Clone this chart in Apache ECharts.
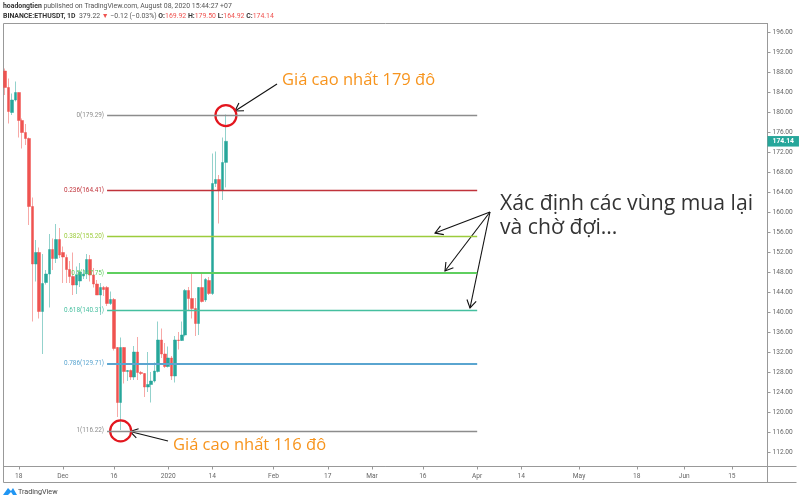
<!DOCTYPE html>
<html>
<head>
<meta charset="utf-8">
<style>
html, body { margin: 0; padding: 0; background: #fff; }
#chart { width: 800px; height: 502px; }
</style>
<script src="https://cdn.jsdelivr.net/npm/echarts@6/dist/echarts.min.js"></script>
</head>
<body>
<div id="chart"></div>
<script>
// daily candles, 14 Nov 2019 to 18 Jan 2020
var opens = [188.2,184.9,179.9,182.4,183.9,178.3,175.9,174.7,161.1,149.6,151.9,140.1,145.9,147.6,152.5,150.7,154.5,151.9,150.9,148.5,147.1,145.4,146.2,147.2,147.6,150.5,147.4,145.6,143.4,144.9,144.9,141.7,142.5,132.9,121.9,132.9,128.1,128.3,127.0,132.0,127.9,127.7,125.0,125.5,126.2,128.1,134.4,131.6,129.1,130.8,127.2,134.4,134.3,135.4,144.3,142.7,140.7,137.7,144.9,142.4,146.3,143.7,165.7,166.5,164.3,169.92];
var closes = [184.9,180.1,182.4,183.9,178.3,175.9,174.7,161.1,149.6,151.9,140.1,145.7,147.6,152.5,150.7,154.5,151.4,151.0,148.5,147.1,145.4,147.4,148.0,147.6,150.5,147.4,145.6,143.4,144.9,144.5,141.7,142.5,132.7,121.9,132.9,128.1,128.3,127.0,132.0,127.9,127.7,125.0,125.5,126.2,128.2,134.4,131.6,129.1,130.8,127.2,134.4,134.3,135.4,144.3,142.7,140.7,137.7,144.9,142.1,146.5,143.7,165.7,166.5,164.3,169.9,174.14];
var highs = [188.7,186.7,183.7,186.1,183.9,178.7,177.6,174.9,162.9,154.4,152.9,151.6,148.4,155.6,154.7,157.6,156.8,153.1,151.5,150.2,151.9,149.1,149.8,148.6,151.6,151.4,148.8,146.4,145.8,145.2,145.2,144.1,142.8,133.0,134.9,133.0,128.4,128.5,133.2,135.0,128.2,127.8,132.0,128.0,129.9,138.1,136.7,133.8,133.1,131.2,135.2,136.0,138.1,144.6,145.0,147.9,142.8,145.0,148.0,146.8,147.0,171.7,172.1,167.4,174.9,179.5];
var lows = [183.4,177.7,179.4,182.1,174.9,172.7,173.4,157.4,138.1,146.1,138.7,131.6,145.5,140.9,148.4,149.8,150.8,145.8,145.8,145.8,143.4,143.6,145.0,146.6,146.6,146.1,144.9,143.4,139.4,143.2,141.2,141.4,132.3,119.0,116.4,125.7,126.2,126.4,126.4,126.4,127.4,123.0,124.0,121.9,125.9,127.9,130.8,128.8,128.9,126.4,125.9,132.5,134.2,135.1,140.4,138.7,135.2,135.4,141.9,142.0,143.4,143.4,165.0,157.7,162.4,164.92];

var firstDay = '2019-11-14';
var dayCount = 225;

var xTickDays = ['2019-11-18','2019-12-01','2019-12-16','2020-01-01','2020-01-14','2020-02-01','2020-02-17','2020-03-01','2020-03-16','2020-04-01','2020-04-14','2020-05-01','2020-05-18','2020-06-01','2020-06-15'];
var xTickLabels = ['18','Dec','16','2020','14','Feb','17','Mar','16','Apr','14','May','18','Jun','15'];
var yTicks = [112,116,120,124,128,132,136,140,144,148,152,156,160,164,168,172,176,180,184,188,192,196];

var fibRatios = ['0','0.236','0.382','0.5','0.618','0.786','1'];
var fibPrices = [179.29,164.41,155.20,147.75,140.31,129.71,116.22];
var fibColors = ['#8c8c8c','#c0333b','#9ccc3c','#5fcf5f','#45bf9f','#5aa5d0','#8c8c8c'];
var fibWidths = [1.3,1.3,1.3,2,1.3,2,1.3];
var fibStart = '2019-12-14';
var fibEnd = '2020-04-01';

var circleDays = ['2020-01-18','2019-12-18'];
var circlePrices = [179.29,116.22];

var upColor = '#26a69a';
var downColor = '#ef5350';
var upWick = '#93d2cc';
var downWick = '#f7a9a7';

var days = [];
for (var i = 0; i < dayCount; i++) {
    var d = new Date(Date.parse(firstDay + 'T00:00:00Z') + i * 86400000);
    days.push(d.toISOString().slice(0, 10));
}

var wickData = [];
var bodyData = [];
for (var j = 0; j < opens.length; j++) {
    var up = closes[j] >= opens[j];
    wickData.push({
        value: [opens[j], closes[j], lows[j], highs[j]],
        itemStyle: { color: 'transparent', color0: 'transparent', borderColor: up ? upWick : downWick, borderColor0: up ? upWick : downWick }
    });
    bodyData.push([opens[j], closes[j], Math.min(opens[j], closes[j]), Math.max(opens[j], closes[j])]);
}

var fibLines = fibPrices.map(function (p, k) {
    return [{
        coord: [fibStart, p],
        lineStyle: { color: fibColors[k], width: fibWidths[k], type: 'solid' },
        label: {
            show: true, position: 'start', distance: 3, color: fibColors[k], fontSize: 6.4,
            fontFamily: 'Roboto', formatter: fibRatios[k] + '(' + p.toFixed(2) + ')'
        }
    }, { coord: [fibEnd, p] }];
});

// annotations: open headed arrows and handwritten style text
function arrow(x0, y0, x1, y1) {
    var a = Math.atan2(y0 - y1, x0 - x1);
    var len = 9;
    var s = { stroke: '#111', lineWidth: 1.1 };
    return [
        { type: 'line', shape: { x1: x0, y1: y0, x2: x1, y2: y1 }, style: s },
        { type: 'polyline', shape: { points: [
            [x1 + len * Math.cos(a + 0.55), y1 + len * Math.sin(a + 0.55)],
            [x1, y1],
            [x1 + len * Math.cos(a - 0.55), y1 + len * Math.sin(a - 0.55)]
        ] }, style: { stroke: '#111', lineWidth: 1.1, fill: null } }
    ];
}
function note(x, y, text, size, color) {
    return { type: 'text', x: x, y: y, style: { text: text, font: size + 'px "Open Sans"', fill: color, textVerticalAlign: 'middle' } };
}

var header = {
    type: 'text', x: 3, y: 2,
    style: {
        text: '{b|hoadongtien} {n|published on TradingView.com, August 08, 2020 15:44:27 +07}\n' +
              '{b|BINANCE:ETHUSDT, 1D}  {n|379.22} {r|▼} {n|−0.12 (−0.03%)} {b|O:}{r|169.92} {b|H:}{r|179.50} {b|L:}{r|164.92} {b|C:}{r|174.14}',
        font: '6.9px Roboto',
        rich: {
            b: { font: 'bold 6.9px Roboto', fill: '#333', lineHeight: 9.5 },
            n: { font: '6.9px Roboto', fill: '#555', lineHeight: 9.5 },
            r: { font: '6.9px Roboto', fill: '#ef5350', lineHeight: 9.5 }
        }
    }
};

var frameColor = '#999';
var graphics = [
    header,
    { type: 'line', shape: { x1: 3.5, y1: 482.5, x2: 796.5, y2: 482.5 }, style: { stroke: frameColor, lineWidth: 1 } },
    { type: 'line', shape: { x1: 767.5, y1: 466.5, x2: 796.5, y2: 466.5 }, style: { stroke: frameColor, lineWidth: 1 } },
    { type: 'line', shape: { x1: 3.5, y1: 466, x2: 3.5, y2: 482.5 }, style: { stroke: frameColor, lineWidth: 1 } },
    { type: 'line', shape: { x1: 767.5, y1: 466, x2: 767.5, y2: 482.5 }, style: { stroke: frameColor, lineWidth: 1 } },
    { type: 'polygon', shape: { points: [[3,495],[8,488],[11,491],[13,488],[17,495],[13,495],[11,492],[8,495]] }, style: { fill: '#2196f3' } },
    { type: 'text', x: 18, y: 492, style: { text: 'TradingView', font: '7.2px Roboto', fill: '#444', textVerticalAlign: 'middle' } },
    note(282, 80, 'Giá cao nhất 179 đô', 16.5, '#f7941d'),
    note(173, 445, 'Giá cao nhất 116 đô', 16.5, '#f7941d'),
    note(500, 204, 'Xác định các vùng mua lại', 21.2, '#333'),
    note(500, 228, 'và chờ đợi...', 21.2, '#333')
].concat(
    arrow(277, 84, 235, 111),
    arrow(168, 441, 130, 431.5),
    arrow(490, 212, 435, 233),
    arrow(490, 212, 445, 271),
    arrow(490, 212, 470, 308)
);

var myChart = echarts.init(document.getElementById('chart'), null, { renderer: 'canvas' });
myChart.setOption({
    animation: false,
    backgroundColor: '#fff',
    grid: { left: 3.5, right: 32.5, top: 23.5, bottom: 35.5, show: true, borderColor: frameColor, borderWidth: 1, backgroundColor: '#fff' },
    xAxis: {
        type: 'category',
        data: days,
        axisLine: { lineStyle: { color: frameColor } },
        axisTick: { show: true, length: 3, lineStyle: { color: frameColor }, alignWithLabel: true, interval: function (idx, val) { return xTickDays.indexOf(val) >= 0; } },
        axisLabel: {
            color: '#666', fontSize: 6.6, fontFamily: 'Roboto', margin: 6,
            interval: function (idx, val) { return xTickDays.indexOf(val) >= 0; },
            formatter: function (val) { return xTickLabels[xTickDays.indexOf(val)]; }
        },
        splitLine: { show: false }
    },
    yAxis: {
        type: 'value',
        position: 'right',
        min: 109.1,
        max: 197.7,
        axisLine: { show: true, lineStyle: { color: frameColor } },
        axisTick: { show: true, length: 3, lineStyle: { color: frameColor }, customValues: yTicks },
        axisLabel: {
            color: '#666', fontSize: 6.6, fontFamily: 'Roboto', margin: 5, customValues: yTicks,
            formatter: function (v) { return v.toFixed(2); }
        },
        splitLine: { show: false }
    },
    graphic: graphics,
    series: [
        {
            type: 'line', data: [], z: 1, silent: true,
            markLine: { silent: true, symbol: 'none', animation: false, data: fibLines }
        },
        {
            type: 'candlestick', data: wickData, barWidth: 1, z: 2, silent: true,
            itemStyle: { borderWidth: 1 }
        },
        {
            type: 'candlestick', data: bodyData, barWidth: 3, z: 3, silent: true,
            itemStyle: { color: upColor, color0: downColor, borderColor: upColor, borderColor0: downColor, borderWidth: 0.5 },
            markLine: {
                silent: true, symbol: 'none', animation: false,
                data: [{
                    yAxis: closes[closes.length - 1],
                    lineStyle: { width: 0, color: 'transparent' },
                    label: {
                        show: true, position: 'end', distance: 0, formatter: closes[closes.length - 1].toFixed(2),
                        backgroundColor: upColor, color: '#fff', fontSize: 6.8, fontWeight: 'bold', fontFamily: 'Roboto',
                        padding: [2, 5, 1.5, 5]
                    }
                }]
            }
        },
        {
            type: 'scatter', z: 4, silent: true, symbolSize: 21,
            data: circleDays.map(function (d, k) { return [d, circlePrices[k]]; }),
            itemStyle: { color: 'transparent', borderColor: '#e3161e', borderWidth: 2.2, opacity: 1 }
        }
    ]
});
</script>
</body>
</html>
